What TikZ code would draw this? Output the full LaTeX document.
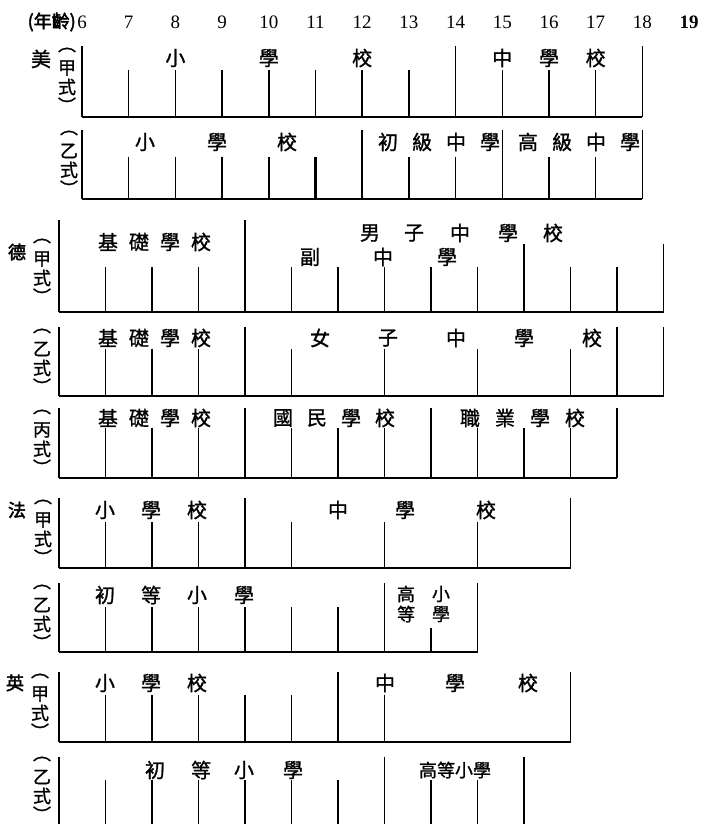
\documentclass[tikz,border=0pt]{standalone}
\usepackage{fontspec}
\setmainfont{Liberation Serif}
\newfontfamily\cjk[FakeBold=1.2]{Noto Sans CJK TC}
\newfontfamily\cjkb[FakeBold=2.5]{Noto Sans CJK TC}
\tikzset{
  bar/.style={line width=1.5pt},
  thickbar/.style={line width=2.6pt},
  base/.style={line width=1.9pt},
  zh/.style={font=\cjk\fontsize{20}{20}\selectfont, inner sep=0pt},
  zhl/.style={font=\cjk\fontsize{18}{18}\selectfont, inner sep=0pt},
  zhs/.style={font=\cjk\fontsize{18}{18}\selectfont, inner sep=0pt},
  zhb/.style={font=\cjkb\fontsize{18}{18}\selectfont, inner sep=0pt},
  num/.style={font=\fontsize{19}{19}\selectfont, inner sep=0pt},
  numb/.style={font=\bfseries\fontsize{19}{19}\selectfont, inner sep=0pt},
}
\def\XA#1{82+(#1-6)*46.7}
\def\XB#1{59+(#1-6)*46.5}
\newcommand\barsA[3]{\foreach \a in {#1} \draw[bar] ({\XA{\a}},#2) -- ({\XA{\a}},#3);}
\newcommand\barsB[3]{\foreach \a in {#1} \draw[bar] ({\XB{\a}},#2) -- ({\XB{\a}},#3);}
\newcommand\baseA[3]{\draw[base] ({\XA{#1}},#3) -- ({\XA{#2}},#3);}
\newcommand\baseB[3]{\draw[base] ({\XB{#1}},#3) -- ({\XB{#2}},#3);}
% vertical label: #1 name, #2 x, #3 top y, #4 char
\newcommand\vlab[4]{%
  \node[zhl] (#1p) at (#2,#3) {︵};
  \node[zhl] (#1c) at (#2,#3+18) {#4};
  \node[zhl] (#1s) at (#2,#3+37) {式};
  \node[zhl] (#1q) at (#2,#3+55) {︶};}
\begin{document}
\begin{tikzpicture}[x=1pt,y=-1pt]
\useasboundingbox (0,0) rectangle (702,824);
% header
\node[zhb, anchor=east] (hdr) at (76,22) {(年齡)};
\foreach \a in {6,...,18} \node[num] (h\a) at ({\XA{\a}},22) {\a};
\node[numb] (h19) at ({\XA{19}},22) {19};

% ---- 美 甲式
\barsA{6,14,18}{46}{117}
\barsA{7,...,13,15,16,17}{70}{117}
\baseA{6}{18}{117}
\foreach \c/\a [count=\i] in {小/8,學/10,校/12,中/15,學/16,校/17}
  \node[zh] (ma\i) at ({\XA{\a}},58) {\c};
\node[zh] (mei) at (41,59) {美};
\vlab{lma}{67}{50}{甲}

% ---- 美 乙式
\barsA{6,12,15,18}{130}{199}
\barsA{7,8,9,10,13,14,16,17}{157}{199}
\draw[thickbar] ({\XA{11}},157) -- ({\XA{11}},199);
\baseA{6}{18}{199}
\foreach \c/\x [count=\i] in {小/145,學/217,校/287,初/388,級/422,中/456,學/490,高/528,級/562,中/596,學/630}
  \node[zh] (mb\i) at (\x,142) {\c};
\vlab{lmb}{69}{133}{乙}

% ---- 德 甲式
\barsB{6,10}{220}{312}
\barsB{16,19}{244}{312}
\barsB{7,8,9,11,12,13,14,15,17,18}{267}{312}
\baseB{6}{19}{312}
\foreach \c/\x [count=\i] in {基/108,礎/139,學/170,校/201}
  \node[zh] (da\i) at (\x,242) {\c};
\foreach \c/\x [count=\i] in {男/370,子/414,中/460,學/508,校/553}
  \node[zh] (dm\i) at (\x,233) {\c};
\foreach \c/\x [count=\i] in {副/310,中/383,學/447}
  \node[zh] (df\i) at (\x,257) {\c};
\node[zhb] (de) at (17,252) {德};
\vlab{lda}{42}{241}{甲}

% ---- 德 乙式
\barsB{6,10,18,19}{327}{396}
\barsB{7,8,9,11,...,17}{349}{396}
\baseB{6}{19}{396}
\foreach \c/\x [count=\i] in {基/108,礎/139,學/170,校/201,女/320,子/388,中/456,學/524,校/592}
  \node[zh] (db\i) at (\x,338) {\c};
\vlab{ldb}{42}{331}{乙}

% ---- 德 丙式
\barsB{6,10,14,18}{408}{478}
\barsB{7,8,9,11,12,13,15,16,17}{428}{478}
\baseB{6}{18}{478}
\foreach \c/\x [count=\i] in {基/108,礎/139,學/170,校/201,國/283,民/317,學/351,校/385,職/470,業/505,學/540,校/575}
  \node[zh] (dc\i) at (\x,418) {\c};
\vlab{ldc}{42}{412}{丙}

% ---- 法 甲式
\barsB{6,10,17}{498}{568}
\barsB{7,8,9,11,...,16}{522}{568}
\baseB{6}{17}{568}
\foreach \c/\x [count=\i] in {小/105,學/151,校/197,中/338,學/405,校/486}
  \node[zh] (fa\i) at (\x,510) {\c};
\node[zhb] (fa) at (17,510) {法};
\vlab{lfa}{43}{502}{甲}

% ---- 法 乙式
\barsB{6,13,15}{583}{652}
\barsB{7,...,12}{607}{652}
\barsB{14}{628}{652}
\baseB{6}{15}{652}
\foreach \c/\x [count=\i] in {初/105,等/151,小/197,學/244}
  \node[zh] (fb\i) at (\x,595) {\c};
\node[zhs] (fg1) at (406,594) {高};
\node[zhs] (fg2) at (441,594) {小};
\node[zhs] (fg3) at (406,614) {等};
\node[zhs] (fg4) at (441,614) {學};
\vlab{lfb}{42}{587}{乙}

% ---- 英 甲式
\barsB{6,12,17}{672}{742}
\barsB{7,...,11,13,...,16}{695}{742}
\baseB{6}{17}{742}
\foreach \c/\x [count=\i] in {小/105,學/151,校/197,中/385,學/455,校/528}
  \node[zh] (ea\i) at (\x,683) {\c};
\node[zhb] (ying) at (15,683) {英};
\vlab{lea}{40}{676}{甲}

% ---- 英 乙式
\barsB{6,13,16}{757}{824}
\barsB{7,...,12,14,15}{780}{824}
\foreach \c/\x [count=\i] in {初/155,等/201,小/244,學/293}
  \node[zh] (eb\i) at (\x,770) {\c};
\node[zhs] (eg) at (455,770) {高等小學};
\vlab{leb}{42}{759}{乙}
\end{tikzpicture}
\end{document}
